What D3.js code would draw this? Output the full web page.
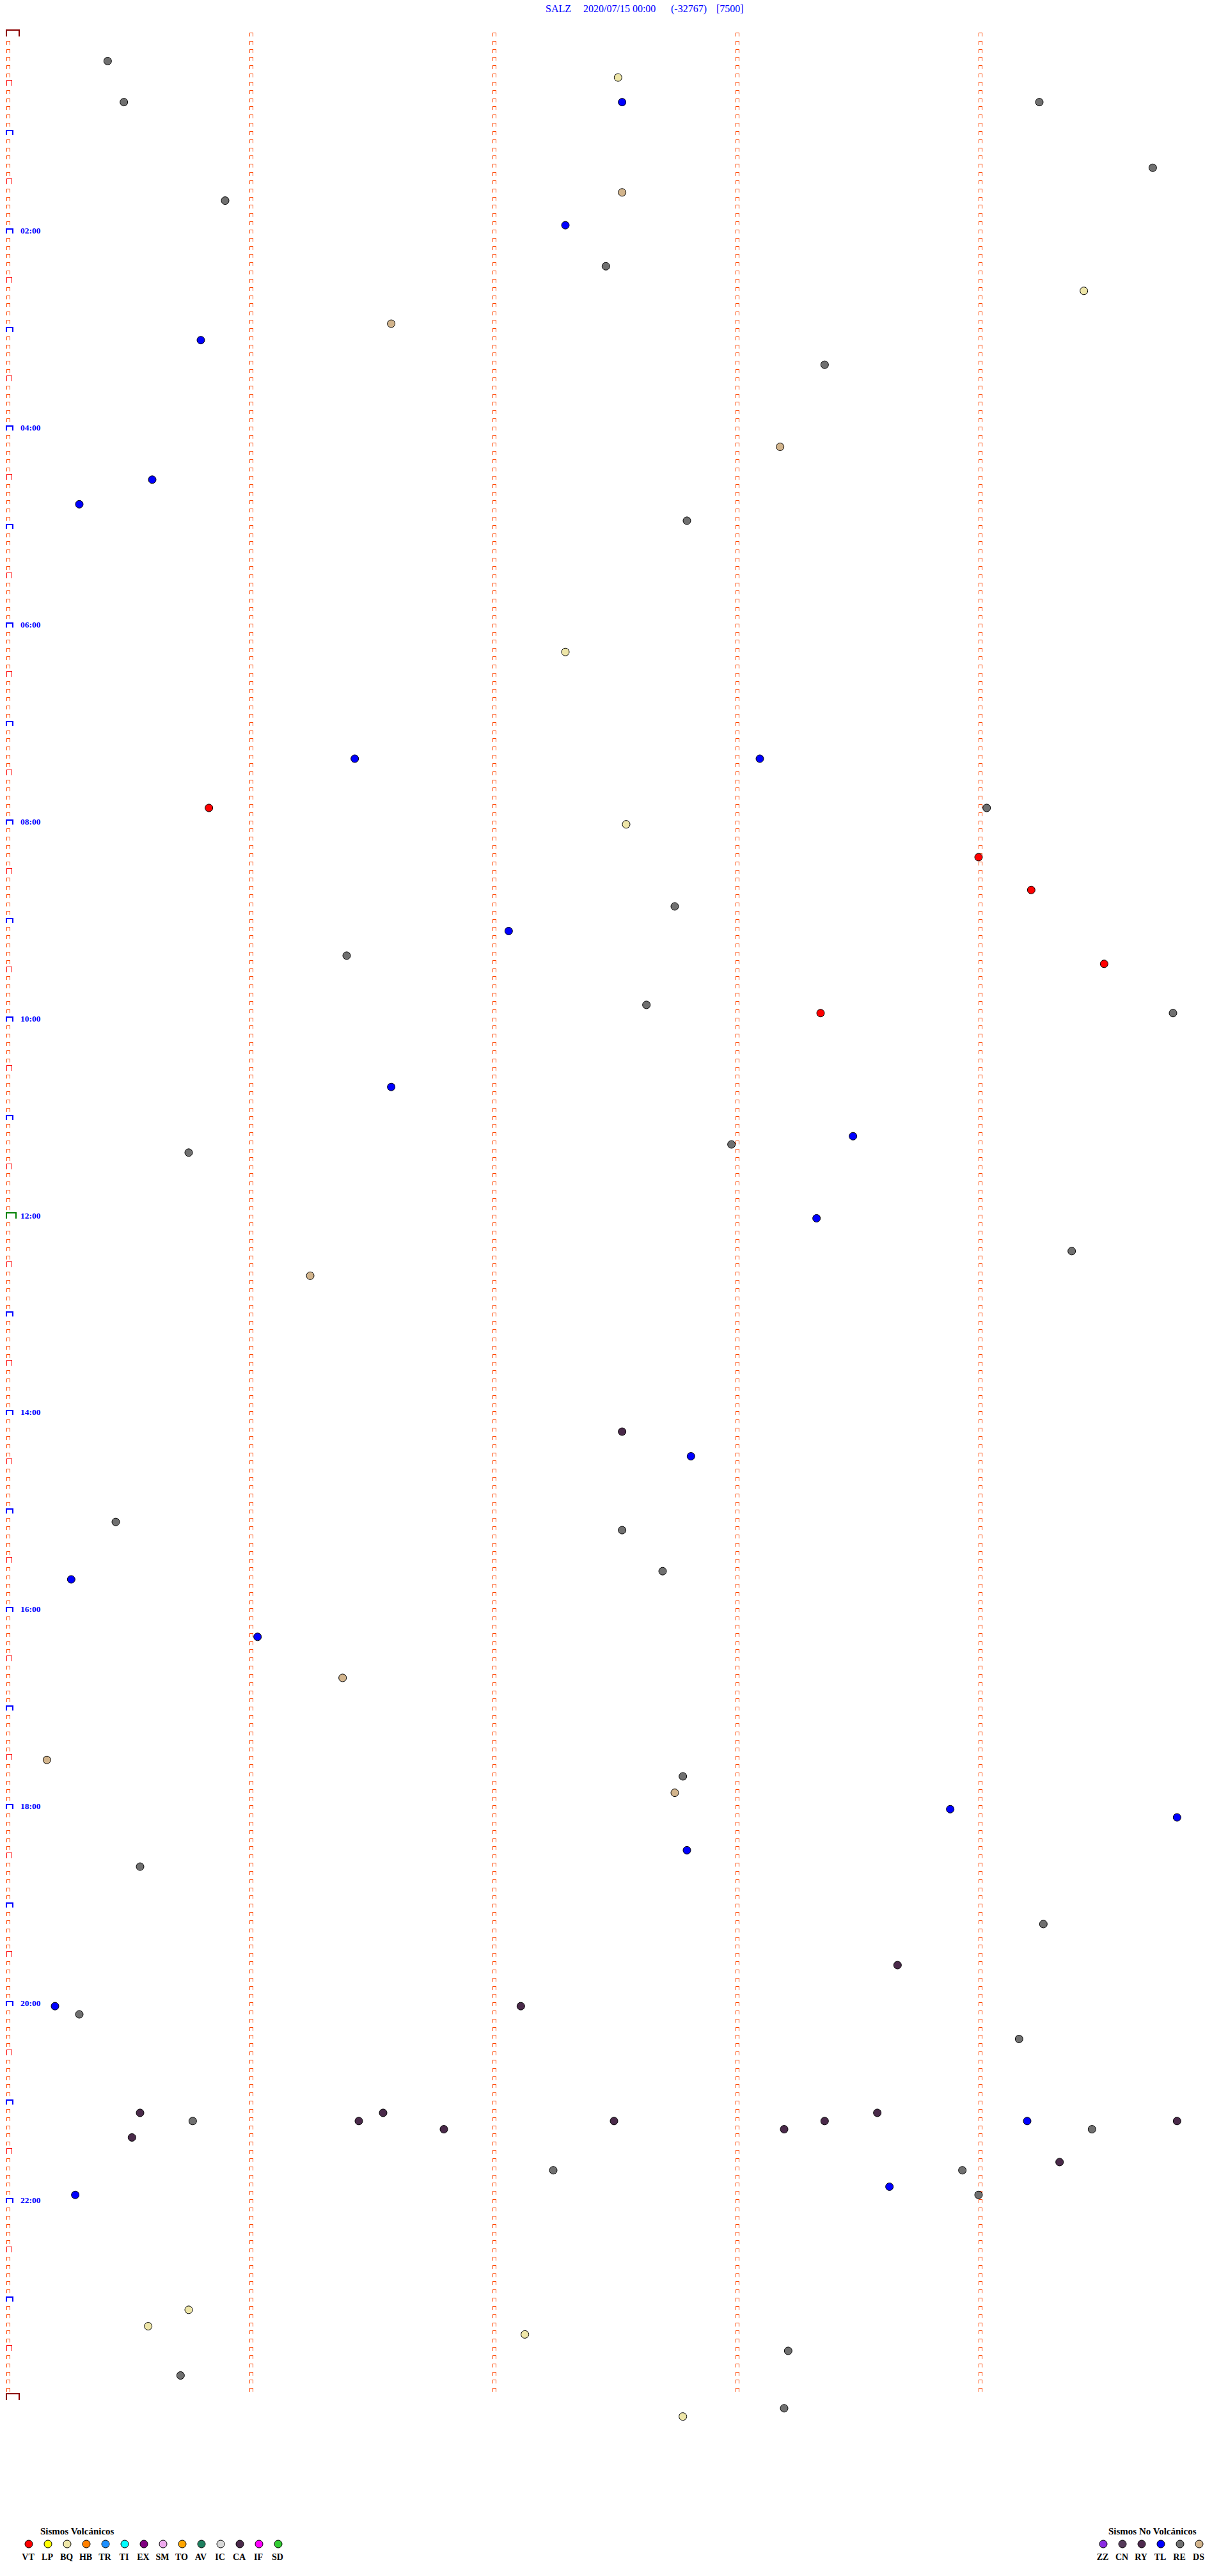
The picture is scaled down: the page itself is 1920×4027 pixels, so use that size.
<!DOCTYPE html>
<html><head><meta charset="utf-8">
<script src="https://cdn.jsdelivr.net/npm/d3@7"></script>
<style>body{margin:0;background:#fff}svg{display:block}</style>
</head><body>
<script>
// ---------- DATA ----------
const titleParts = ["SALZ", "2020/07/15 00:00", "(-32767)", "[7500]"];
const hourLabels = ["02:00","04:00","06:00","08:00","10:00","12:00","14:00","16:00","18:00","20:00","22:00"];
const columnSeconds = [60, 120, 180, 240];

const eventTimes = [
 "00:15:25","00:27:31","00:40:29","00:42:32","00:44:15","01:24:43","01:37:32","01:40:54","01:57:18",
 "02:22:28","02:39:26","02:56:35","03:05:48","03:23:22","04:13:11","04:30:36","04:45:18","04:57:48",
 "06:17:18","07:21:26","07:23:06","07:50:50","07:54:02","08:02:33","08:24:00","08:44:13","08:52:45",
 "09:07:04","09:21:24","09:29:31","09:52:38","09:58:21","09:59:48","10:41:35","11:13:29","11:17:59",
 "11:20:45","12:03:20","12:24:23","12:36:15","14:12:32","14:27:49","15:05:27","15:12:32","15:37:42",
 "15:40:16","16:16:02","16:41:23","17:30:10","17:42:47","17:52:45","18:03:53","18:09:49","18:27:48",
 "18:35:33","19:14:16","19:38:40","20:00:12","20:02:07","20:05:18","20:24:10","21:05:33","21:06:33",
 "21:08:35","21:10:46","21:11:27","21:12:30","21:13:22","21:14:12","21:14:49","21:16:48","21:18:12",
 "21:19:28","21:20:31","21:39:20","21:42:15","21:43:56","21:53:38","21:55:17","21:59:00","23:05:45",
 "23:15:35","23:22:08","23:33:13","23:45:43","24:08:12","24:12:47"
];
const eventTypes = [
 "RE","BQ","RE","TL","RE","RE","DS","RE","TL",
 "RE","BQ","DS","TL","RE","DS","TL","TL","RE",
 "BQ","TL","TL","VT","RE","BQ","VT","VT","RE",
 "TL","RE","VT","RE","VT","RE","TL","TL","RE",
 "RE","TL","RE","DS","CA","TL","RE","RE","RE",
 "TL","TL","DS","DS","RE","DS","TL","TL","TL",
 "RE","RE","CA","TL","CA","RE","RE","CA","CA",
 "CA","RE","CA","CA","CA","TL","CA","CA","CA",
 "RE","CA","CA","RE","RE","TL","TL","RE","BQ",
 "BQ","BQ","RE","RE","RE","BQ"
];

const volcanicTypes  = ["VT","LP","BQ","HB","TR","TI","EX","SM","TO","AV","IC","CA","IF","SD"];
const volcanicColors = ["#ff0000","#ffff00","#eee6a8","#ff8000","#1e90ff","#00ffff","#800080","#eeaaee","#ffa500","#1f8060","#d8d8d8","#4a2a4a","#ff00ff","#33cc33"];
const nonVolcanicTypes  = ["ZZ","CN","RY","TL","RE","DS"];
const nonVolcanicColors = ["#8a2be2","#553a5a","#4e2a4e","#0000ff","#707070","#d2b48c"];

// ---------- SETUP ----------
const W = 1920, H = 4027;
const svg = d3.select("body").append("svg").attr("width", W).attr("height", H)
  .style("font-family", "'Liberation Serif','Times New Roman',serif");
svg.append("rect").attr("width", W).attr("height", H).attr("fill", "#fff");

const x = d3.scaleLinear().domain([0, 300]).range([10, 1910]);      // seconds within a 5-min row
const y = d3.scaleLinear().domain([0, 1440]).range([57, 3752]);     // row start, minutes of day

const colorOf = {};
volcanicTypes.forEach((t, i) => colorOf[t] = volcanicColors[i]);
nonVolcanicTypes.forEach((t, i) => colorOf[t] = nonVolcanicColors[i]);

// ---------- TITLE ----------
const titleX = [853, 912, 1049, 1120];
svg.append("g").selectAll("text").data(titleParts).join("text")
  .attr("x", (d, i) => titleX[i]).attr("y", 19)
  .attr("fill", "#0000ff").attr("font-size", 16)
  .text(d => d);

// ---------- TIME MARKERS ----------
const rowMinutes = d3.range(0, 1441, 5);
function markerPath(m) {
  const yb = Math.round(y(m));
  if (m === 0 || m === 1440) return {d: `M10,${yb} V${yb-10} H30 V${yb}`, c: "#8b0000", w: 2};
  if (m === 720) return {d: `M10,${yb} V${yb-9} H25 V${yb}`, c: "#008000", w: 2};
  if (m % 60 === 0) return {d: `M10,${yb} V${yb-7} H20 V${yb}`, c: "#0000ff", w: 2};
  if (m % 30 === 0) return {d: `M10.5,${yb} V${yb-8.5} H18.5 V${yb}`, c: "#ff0000", w: 1};
  return {d: `M10.5,${yb} V${yb-5.5} H15.5 V${yb}`, c: "#ff4500", w: 1};
}
svg.append("g").attr("fill", "none").attr("shape-rendering", "crispEdges")
  .selectAll("path").data(rowMinutes).join("path")
  .each(function(m) {
    const p = markerPath(m);
    d3.select(this).attr("d", p.d).attr("stroke", p.c).attr("stroke-width", p.w);
  });

// hour labels
svg.append("g").selectAll("text").data(hourLabels).join("text")
  .attr("x", 32)
  .attr("y", d => { const [h, mm] = d.split(":").map(Number); return Math.round(y(h*60+mm)); })
  .attr("fill", "#0000ff").attr("font-weight", "bold").attr("font-size", 13.5)
  .text(d => d);

// vertical dotted columns
const colRows = d3.range(0, 1440, 5);
const colG = svg.append("g").attr("fill", "none").attr("stroke", "#ff4500")
  .attr("shape-rendering", "crispEdges");
columnSeconds.forEach(s => {
  const xl = Math.round(x(s)) + 0.5;
  colG.append("g").selectAll("path").data(colRows).join("path")
    .attr("d", m => { const yb = Math.round(y(m)); return `M${xl},${yb} V${yb-5.5} H${xl+5} V${yb}`; });
});

// ---------- EVENTS ----------
const events = eventTimes.map((t, i) => {
  const [h, mm, ss] = t.split(":").map(Number);
  const total = h*60 + mm + ss/60;
  const row = Math.floor(total/5)*5;
  return {row, sec: (total - row)*60, type: eventTypes[i]};
});
svg.append("g").selectAll("circle").data(events).join("circle")
  .attr("cx", d => x(d.sec)).attr("cy", d => y(d.row))
  .attr("r", 6).attr("fill", d => colorOf[d.type])
  .attr("stroke", "#000").attr("stroke-width", 1);

// ---------- LEGENDS ----------
function legend(types, colors, x0, titleText, titleX) {
  const lx = d3.scaleLinear().domain([0, 1]).range([x0, x0 + 30]);
  const g = svg.append("g");
  g.append("text").attr("x", titleX).attr("y", 3962).attr("font-weight", "bold")
    .attr("font-size", 15).attr("fill", "#000").text(titleText);
  g.selectAll("circle").data(types).join("circle")
    .attr("cx", (d, i) => lx(i)).attr("cy", 3977).attr("r", 6)
    .attr("fill", (d, i) => colors[i]).attr("stroke", "#000").attr("stroke-width", 1);
  g.selectAll("text.lab").data(types).join("text").attr("class", "lab")
    .attr("x", (d, i) => lx(i) - 1).attr("y", 4002).attr("text-anchor", "middle")
    .attr("font-weight", "bold").attr("font-size", 14).attr("fill", "#000").text(d => d);
}
legend(volcanicTypes, volcanicColors, 45, "Sismos Volcánicos", 63);
legend(nonVolcanicTypes, nonVolcanicColors, 1725, "Sismos No Volcánicos", 1733);
</script>
</body></html>
